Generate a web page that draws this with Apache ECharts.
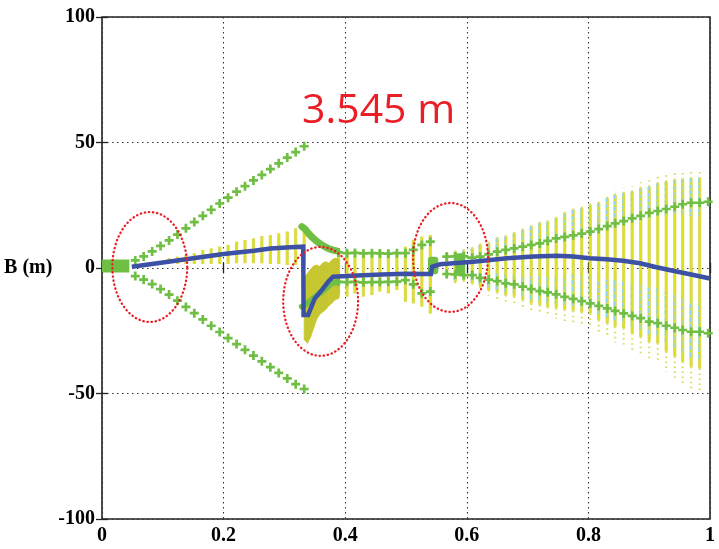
<!DOCTYPE html>
<html><head><meta charset="utf-8">
<script src="https://cdn.jsdelivr.net/npm/echarts@6/dist/echarts.min.js"></script>
<style>html,body{margin:0;padding:0;background:#fff}#c{width:719px;height:549px}</style>
</head><body><div id="c"></div>
<script>
// ---------- tick labels / texts ----------
const xTickLabels = ['0', '0.2', '0.4', '0.6', '0.8', '1'];
const yTickLabels = ['-100', '-50', '0', '50', '100'];
const titleText = '3.545 m';
const yName = 'B (m)';

// ---------- main (blue) line ----------
const blueX = [0.049, 0.10, 0.15, 0.20, 0.25, 0.277, 0.31, 0.331, 0.3315, 0.339, 0.35, 0.3615, 0.372, 0.38, 0.42, 0.46, 0.50, 0.541, 0.543, 0.556, 0.611, 0.666, 0.71, 0.748, 0.775, 0.802, 0.83, 0.857, 0.885, 0.912, 0.939, 0.967, 1.0];
const blueY = [0.5, 2.2, 3.9, 5.6, 6.9, 7.8, 8.3, 8.5, -18.7, -18.7, -12.1, -8.8, -5.5, -3.5, -3.0, -2.6, -2.3, -2.4, 0.5, 1.5, 2.5, 3.9, 4.6, 4.9, 4.6, 3.9, 3.5, 2.9, 1.9, 0.3, -1.1, -2.5, -4.2];

// ---------- green "+" markers ----------
const leftMarkX = [0.0547, 0.0685, 0.0825, 0.0963, 0.1103, 0.1241, 0.1380, 0.1518, 0.1658, 0.1796, 0.1936, 0.2074, 0.2214, 0.2352, 0.2491, 0.2629, 0.2769, 0.2907, 0.3047, 0.3185, 0.3325];
const leftUpper = [3.0, 4.6, 6.6, 8.8, 11.0, 13.3, 15.8, 18.3, 20.8, 23.2, 25.7, 28.0, 30.4, 32.6, 34.9, 37.1, 39.4, 41.7, 44.0, 46.2, 48.5];
const leftLower = [-3.2, -4.6, -6.4, -8.4, -10.6, -13.0, -15.5, -18.0, -20.5, -23.0, -25.5, -27.9, -30.3, -32.6, -34.9, -37.2, -39.5, -41.8, -44.0, -46.3, -48.2];

const midMarkX = [0.389, 0.403, 0.416, 0.430, 0.444, 0.457, 0.471, 0.485, 0.499, 0.512, 0.526, 0.540];
const midUpper = [6.2, 5.9, 6.0, 5.8, 5.9, 5.8, 5.7, 5.9, 5.9, 7.2, 9.2, 10.5];
const midLower = [-5.5, -5.6, -5.5, -5.7, -5.6, -5.6, -5.5, -5.4, -4.8, -6.5, -10.1, -9.4];

const rightMarkX = [0.567, 0.581, 0.595, 0.609, 0.622, 0.636, 0.650, 0.664, 0.678, 0.692, 0.706, 0.720, 0.733, 0.747, 0.761, 0.775, 0.789, 0.803, 0.817, 0.831, 0.844, 0.858, 0.872, 0.886, 0.900, 0.914, 0.928, 0.942, 0.955, 0.969, 0.983, 0.997];
const rightUpper = [4.5, 4.6, 4.6, 4.1, 4.5, 5.4, 6.5, 7.2, 7.8, 8.5, 9.2, 9.8, 10.8, 11.8, 12.4, 13.0, 13.7, 14.5, 15.5, 16.7, 17.8, 18.7, 19.8, 20.8, 22.0, 22.7, 23.5, 24.4, 25.4, 26.0, 26.0, 26.4];
const rightLower = [-2.4, -2.5, -2.8, -2.8, -3.9, -4.6, -5.2, -6.1, -6.5, -7.4, -8.4, -9.2, -9.7, -10.5, -11.5, -12.3, -13.2, -14.1, -15.1, -16.1, -17.1, -18.1, -19.1, -20.0, -21.4, -22.0, -23.0, -23.8, -24.7, -25.4, -25.4, -26.0];

// dense green cluster at the start
const clusterX = [0.0, 0.045];
const clusterY = [0.8, 0.8];

// thick green curves after the jump
const upCurveX = [0.3287, 0.334, 0.3395, 0.345, 0.3505, 0.356, 0.3615, 0.367, 0.3724, 0.379, 0.386];
const upCurveY = [16.5, 15.5, 13.8, 12.4, 11.2, 10.1, 9.2, 8.4, 7.8, 7.2, 6.8];
const lowCurveX = [0.3287, 0.337, 0.345, 0.353, 0.3615, 0.37, 0.378, 0.388];
const lowCurveY = [-15.4, -14.2, -12.7, -11.0, -9.4, -7.7, -6.1, -5.6];

// green marker clusters (blobs)
const blobX0 = [0.536, 0.581];
const blobX1 = [0.553, 0.597];
const blobLo = [-2.5, -3.1];
const blobHi = [4.5, 5.9];

// ---------- yellow spread bars ----------
const leftBarX = [0.1103, 0.1241, 0.1380, 0.1518, 0.1658, 0.1796, 0.1936, 0.2074, 0.2214, 0.2352, 0.2491, 0.2629, 0.2769, 0.2907, 0.3047, 0.3185, 0.3325];
const leftBarLo = [1.9, 1.6, 1.6, 1.6, 1.6, 1.6, 1.6, 1.6, 1.9, 1.9, 1.9, 1.9, 1.6, 1.6, 1.2, 1.2, 1.2];
const leftBarHi = [3.9, 4.5, 5.2, 5.9, 7.2, 7.8, 8.5, 9.2, 10.5, 11.2, 11.8, 12.7, 13.1, 13.8, 14.5, 15.8, 17.1];

const midBarX = [0.389, 0.403, 0.416, 0.430, 0.444, 0.457, 0.471, 0.485, 0.499, 0.512, 0.526, 0.540];
const midBarLo = [-10.8, -11.4, -10.1, -11.4, -10.8, -9.4, -10.1, -8.8, -13.4, -14.1, -15.4, -18.1];
const midBarHi = [7.8, 7.2, 7.2, 6.5, 6.5, 7.2, 7.2, 6.5, 8.5, 11.2, 12.5, 13.1];

const rightBarX = [0.567, 0.581, 0.595, 0.609, 0.622, 0.636, 0.650, 0.664, 0.678, 0.692, 0.706, 0.720, 0.733, 0.747, 0.761, 0.775, 0.789, 0.803, 0.817, 0.831, 0.844, 0.858, 0.872, 0.886, 0.900, 0.914, 0.928, 0.942, 0.955, 0.969, 0.983];
const rightBarLo = [-3.5, -5.5, -5.0, -6.1, -7.4, -8.8, -9.7, -10.8, -11.4, -12.7, -14.1, -14.7, -15.5, -16.0, -16.5, -17.0, -17.5, -18.1, -20.7, -22.0, -23.4, -24.0, -26.0, -27.4, -29.4, -30.0, -33.3, -35.3, -37.3, -39.3, -40.0];
const rightBarHi = [5.9, 6.5, 7.0, 7.8, 9.2, 9.8, 11.8, 12.5, 13.8, 15.1, 16.5, 17.8, 18.4, 19.8, 21.8, 23.1, 23.8, 25.1, 25.8, 27.8, 29.1, 29.8, 30.4, 31.8, 32.4, 33.7, 34.4, 35.1, 35.3, 35.7, 35.7];

// dense yellow band after the jump
const bandX = [0.3325, 0.338, 0.343, 0.348, 0.353, 0.358, 0.363, 0.368, 0.373, 0.378, 0.383, 0.390];
const bandLo = [-28.5, -30.0, -27.5, -24.0, -20.5, -18.5, -17.5, -16.5, -15.0, -14.0, -12.7, -12.0];
const bandHi = [-4.0, -2.1, -0.5, 0.8, 1.2, 0.6, 2.0, 2.5, 1.9, 3.2, 3.9, 3.5];

// ---------- red dotted ellipses ----------
const ellCx = [0.0786, 0.3596, 0.5732];
const ellCy = [0.4, -13.3, 4.2];
const ellRx = [0.0616, 0.0616, 0.0616];
const ellRy = [21.9, 21.7, 21.7];

// ---------- styles ----------
const GREEN = '#6fbf44';
const BLUE = '#3c50a6';
const YELLOW = '#d9d94e';
const YCORE = '#e2e21a';
const BAND = '#c6c630';
const CYAN = '#8fd6ea';
const RED = '#ea1f26';
const SERIF = '"Liberation Serif","DejaVu Serif",serif';
const PLUS = 'path://M3.5,0H6.5V3.5H10V6.5H6.5V10H3.5V6.5H0V3.5H3.5Z';

const zip = (xs, ys) => xs.map((x, i) => [x, ys[i]]);

function barRender(opts) {
  return function (params, api) {
    const x = api.value(0), lo = api.value(1), hi = api.value(2);
    const a = api.coord([x, lo]), b = api.coord([x, hi]);
    const ch = [];
    if (opts.ext) {
      const span = hi - lo;
      const e1 = api.coord([x, lo - span * 0.12]);
      const e2 = api.coord([x, hi + span * 0.04]);
      ch.push({type: 'line', shape: {x1: a[0], y1: a[1], x2: e1[0], y2: e1[1]}, style: {stroke: YELLOW, lineWidth: 2, lineDash: [1.5, 3.5]}});
      ch.push({type: 'line', shape: {x1: b[0], y1: b[1], x2: e2[0], y2: e2[1]}, style: {stroke: YELLOW, lineWidth: 2, lineDash: [1.5, 3.5]}});
    }
    ch.push({type: 'line', shape: {x1: a[0], y1: a[1], x2: b[0], y2: b[1]}, style: {stroke: YELLOW, lineWidth: 3.2}});
    ch.push({type: 'line', shape: {x1: a[0], y1: a[1], x2: b[0], y2: b[1]}, style: {stroke: YCORE, lineWidth: 1.1}});
    if (opts.cyan) {
      const span = hi - lo;
      const t1 = api.coord([x, hi]), t2 = api.coord([x, hi - span * 0.2]);
      const l1 = api.coord([x, lo + span * 0.05]), l2 = api.coord([x, lo + span * 0.35]);
      ch.push({type: 'line', shape: {x1: t1[0] - 0.8, y1: t1[1], x2: t2[0] - 0.8, y2: t2[1]}, style: {stroke: CYAN, lineWidth: 1.4, lineDash: [4, 2]}});
      ch.push({type: 'line', shape: {x1: l1[0] - 0.8, y1: l1[1], x2: l2[0] - 0.8, y2: l2[1]}, style: {stroke: CYAN, lineWidth: 1.4, lineDash: [5, 2]}});
    }
    return {type: 'group', children: ch};
  };
}

function bandRender(params, api) {
  const x0 = api.value(0), lo0 = api.value(1), hi0 = api.value(2);
  const x1 = api.value(3), lo1 = api.value(4), hi1 = api.value(5);
  const pts = [api.coord([x0, hi0]), api.coord([x1, hi1]), api.coord([x1, lo1]), api.coord([x0, lo0])];
  return {type: 'polygon', shape: {points: pts}, style: {fill: BAND, stroke: BAND, lineWidth: 0.8}};
}

function blobRender(params, api) {
  const a = api.coord([api.value(0), api.value(3)]);
  const b = api.coord([api.value(1), api.value(2)]);
  return {type: 'rect', shape: {x: a[0], y: a[1], width: b[0] - a[0], height: b[1] - a[1], r: 3}, style: {fill: GREEN}};
}

function ellipseRender(params, api) {
  const cx = api.value(0), cy = api.value(1), rx = api.value(2), ry = api.value(3);
  const pts = [];
  for (let i = 0; i <= 90; i++) {
    const t = i / 90 * Math.PI * 2;
    pts.push(api.coord([cx + rx * Math.cos(t), cy + ry * Math.sin(t)]));
  }
  return {type: 'polyline', shape: {points: pts}, style: {stroke: RED, fill: null, lineWidth: 2.3, lineDash: [0.4, 3.7], lineCap: 'round'}};
}

const bandData = bandX.slice(0, -1).map((x, i) => [x, bandLo[i], bandHi[i], bandX[i + 1], bandLo[i + 1], bandHi[i + 1]]);

const markerSeries = (xs, ys) => ({
  type: 'scatter', data: zip(xs, ys), symbol: PLUS, symbolSize: 9,
  itemStyle: {color: GREEN, opacity: 1}, z: 4, silent: true
});

const chart = echarts.init(document.getElementById('c'), null, {renderer: 'canvas'});
chart.setOption({
  animation: false,
  backgroundColor: '#fff',
  grid: {left: 102, right: 9, top: 17, bottom: 30, show: true, borderColor: '#222', borderWidth: 1.6, backgroundColor: 'transparent', containLabel: false, outerBoundsMode: 'none'},
  graphic: [{
    type: 'text', left: 302, top: 91, z: 100,
    style: {text: titleText, fill: RED, font: '41px "Open Sans", "Noto Sans", sans-serif'}
  }],
  xAxis: [{
    type: 'value', min: 0, max: 1, interval: 0.2, position: 'bottom',
    axisLine: {show: false},
    axisTick: {show: true, inside: true, length: 5, lineStyle: {color: '#222', width: 1.3}},
    axisLabel: {margin: 7, color: '#000', fontFamily: SERIF, fontSize: 20, fontWeight: 'bold',
      formatter: v => xTickLabels[Math.round(v / 0.2)]},
    splitLine: {show: true, lineStyle: {color: '#333', width: 1.1, type: [1.5, 3.5]}}
  }, {
    type: 'value', min: 0, max: 1, interval: 0.2, position: 'top',
    axisLine: {show: false}, axisLabel: {show: false}, splitLine: {show: false},
    axisTick: {show: true, inside: true, length: 5, lineStyle: {color: '#222', width: 1.3}}
  }],
  yAxis: [{
    type: 'value', min: -100, max: 100, interval: 50, position: 'left',
    name: yName, nameLocation: 'middle', nameRotate: 0, nameGap: 32,
    nameTextStyle: {color: '#000', fontFamily: SERIF, fontSize: 20, fontWeight: 'bold'},
    axisLine: {show: false},
    axisTick: {show: true, inside: true, length: 6, lineStyle: {color: '#222', width: 1.3}},
    axisLabel: {margin: 7, color: '#000', fontFamily: SERIF, fontSize: 20, fontWeight: 'bold',
      formatter: v => yTickLabels[Math.round((v + 100) / 50)]},
    splitLine: {show: true, lineStyle: {color: '#333', width: 1.1, type: [1.5, 3.5]}}
  }, {
    type: 'value', min: -100, max: 100, interval: 50, position: 'right',
    axisLine: {show: false}, axisLabel: {show: false}, splitLine: {show: false},
    axisTick: {show: true, inside: true, length: 6, lineStyle: {color: '#222', width: 1.3}}
  }],
  series: [
    {type: 'custom', renderItem: barRender({}), data: zip(leftBarX, leftBarLo).map((d, i) => [d[0], d[1], leftBarHi[i]]), encode: {x: 0, y: [1, 2]}, z: 2, silent: true},
    {type: 'custom', renderItem: barRender({}), data: zip(midBarX, midBarLo).map((d, i) => [d[0], d[1], midBarHi[i]]), encode: {x: 0, y: [1, 2]}, z: 2, silent: true},
    {type: 'custom', renderItem: barRender({ext: true, cyan: true}), data: zip(rightBarX, rightBarLo).map((d, i) => [d[0], d[1], rightBarHi[i]]), encode: {x: 0, y: [1, 2]}, z: 2, silent: true},
    {type: 'custom', renderItem: bandRender, data: bandData, encode: {x: [0, 3], y: [1, 2, 4, 5]}, z: 2, silent: true},
    {type: 'line', data: zip(clusterX, clusterY), symbol: 'none', lineStyle: {color: GREEN, width: 13}, z: 3, silent: true},
    {type: 'custom', renderItem: blobRender, data: blobX0.map((x, i) => [x, blobX1[i], blobLo[i], blobHi[i]]), encode: {x: [0, 1], y: [2, 3]}, z: 3, silent: true},
    {type: 'line', data: zip(upCurveX, upCurveY), symbol: 'none', smooth: 0.3, lineStyle: {color: GREEN, width: 7, cap: 'round'}, z: 3, silent: true},
    {type: 'line', data: zip(lowCurveX, lowCurveY), symbol: 'none', smooth: 0.3, lineStyle: {color: GREEN, width: 6, cap: 'round'}, z: 3, silent: true},
    markerSeries(leftMarkX, leftUpper),
    markerSeries(leftMarkX, leftLower),
    markerSeries(midMarkX, midUpper),
    markerSeries(midMarkX, midLower),
    markerSeries(rightMarkX, rightUpper),
    markerSeries(rightMarkX, rightLower),
    {type: 'line', data: zip(blueX, blueY), symbol: 'none', lineStyle: {color: BLUE, width: 4.5, join: 'miter'}, z: 5, silent: true},
    {type: 'custom', renderItem: ellipseRender, data: ellCx.map((c, i) => [c, ellCy[i], ellRx[i], ellRy[i]]), encode: {x: 0, y: 1}, z: 6, silent: true, clip: false}
  ]
});
</script>
</body></html>
